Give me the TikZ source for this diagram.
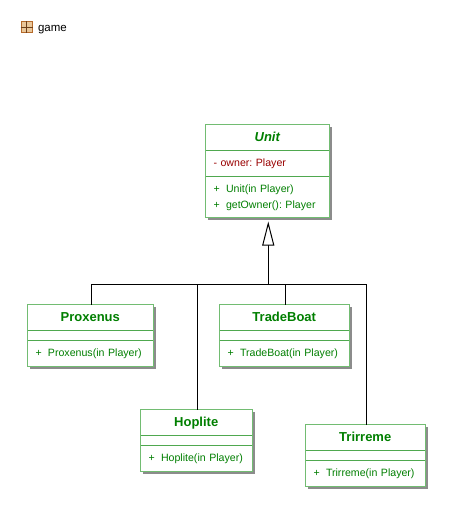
\documentclass[tikz,border=0pt]{standalone}
\usepackage{fontspec}
\setmainfont{Liberation Sans}
\usepackage{xcolor}
\usepackage{tikz}
\usetikzlibrary{arrows.meta,positioning,fit,backgrounds,shadows}
\definecolor{umlgreen}{HTML}{007F00}
\definecolor{umlred}{HTML}{990000}
\definecolor{umledge}{HTML}{72BC72}
\definecolor{umldivider}{HTML}{4FA84F}
\definecolor{umldark}{HTML}{3E963E}
\definecolor{iconfill}{HTML}{E9C79A}
\definecolor{iconedge}{HTML}{B56A2A}
\newcommand{\pub}{\makebox[12.5pt][l]{+}}

\begin{document}
\frenchspacing
\begin{tikzpicture}[
    x=1pt, y=-1pt,
    titlebox/.style={rectangle, minimum width=#1, minimum height=26pt, inner sep=0pt, outer sep=0pt, text height=11pt, text depth=3pt, text=umlgreen, font=\fontsize{13}{15}\selectfont\bfseries},
    attrbox/.style={rectangle, text width=#1-16pt, inner xsep=8pt, inner ysep=0pt, outer sep=0pt, text height=7.5pt, text depth=1.5pt, align=left, text=umlred, font=\fontsize{10.6}{16}\selectfont},
    opsbox/.style={rectangle, text width=#1-16pt, inner xsep=8pt, inner ysep=0pt, outer sep=0pt, text height=7.5pt, text depth=1.5pt, align=left, text=umlgreen, font=\fontsize{10.6}{16}\selectfont},
    classframe/.style={rectangle, draw=umledge, fill=white, line width=1pt, inner sep=0pt, outer sep=0pt,
        general shadow={shadow xshift=2.5pt, shadow yshift=-2.5pt, fill=black!45},
        general shadow={shadow xshift=0.8pt, shadow yshift=-0.8pt, fill=umldark}},
    divider/.style={umldivider, line width=1pt},
    arrow/.style={-{Triangle[open, fill=white, length=24pt, width=12pt]}, line width=1pt},
    link/.style={line width=1pt}
]
\useasboundingbox (0,0) rectangle (453,510);

% Package label
\node[rectangle, draw=iconedge, fill=iconfill, line width=1pt, minimum size=11pt, inner sep=0pt] (gameicon) at (26.5,27.2) {};
\node[right=2pt of gameicon, text height=9pt, text depth=0pt, font=\fontsize{11.5}{13}\selectfont] (gamelabel) {game};
\draw[iconedge!60!black, line width=0.8pt] (gameicon.north) -- (gameicon.south);
\draw[iconedge!60!black, line width=0.8pt] (gameicon.west) -- (gameicon.east);

% Parent class
\node[titlebox=123.5pt, anchor=north west, font=\fontsize{13}{15}\selectfont\bfseries\itshape] (unittitle) at (205.5,124.5) {Unit};
\node[attrbox=123.5pt, minimum height=26pt, below=0pt of unittitle] (unitattr) {- owner: Player};
\node[opsbox=123.5pt, minimum height=41pt, text depth=15.5pt, below=0pt of unitattr] (unitops) {\pub Unit(in Player)\\\pub getOwner(): Player};

% Child classes
\node[titlebox=125.5pt, anchor=north west] (proxenustitle) at (27.5,304.5) {Proxenus};
\node[attrbox=125.5pt, minimum height=10pt, below=0pt of proxenustitle] (proxenusattr) {};
\node[opsbox=125.5pt, minimum height=25.5pt, below=0pt of proxenusattr] (proxenusops) {\pub Proxenus(in Player)};

\node[titlebox=129.5pt, anchor=north west] (tradeboattitle) at (219.5,304.5) {TradeBoat};
\node[attrbox=129.5pt, minimum height=10pt, below=0pt of tradeboattitle] (tradeboatattr) {};
\node[opsbox=129.5pt, minimum height=25.5pt, below=0pt of tradeboatattr] (tradeboatops) {\pub TradeBoat(in Player)};

\node[titlebox=111.5pt, anchor=north west] (hoplitetitle) at (140.5,409.5) {Hoplite};
\node[attrbox=111.5pt, minimum height=10pt, below=0pt of hoplitetitle] (hopliteattr) {};
\node[opsbox=111.5pt, minimum height=25.5pt, below=0pt of hopliteattr] (hopliteops) {\pub Hoplite(in Player)};

\node[titlebox=119.5pt, anchor=north west] (trirremetitle) at (305.5,424.5) {Trirreme};
\node[attrbox=119.5pt, minimum height=10pt, below=0pt of trirremetitle] (trirremeattr) {};
\node[opsbox=119.5pt, minimum height=25.5pt, below=0pt of trirremeattr] (trirremeops) {\pub Trirreme(in Player)};

% Frames and dividers
\begin{scope}[on background layer]
\foreach \cname in {unit,proxenus,tradeboat,hoplite,trirreme}
    \node[classframe, fit=(\cname title)(\cname ops)] (\cname) {};
\end{scope}
\foreach \cname in {unit,proxenus,tradeboat,hoplite,trirreme} {
    \draw[divider] (\cname title.south west) -- (\cname title.south east);
    \draw[divider] (\cname attr.south west) -- (\cname attr.south east);
}

% Arrows
\coordinate (bus) at ([xshift=1pt]unit.south |- 0,284.5);
\draw[arrow] (bus) -- ([xshift=1pt, yshift=-4pt]unit.south);
\draw[link] ([xshift=1pt]proxenus.north) |- (bus);
\draw[link] ([xshift=1pt]hoplite.north) |- (bus);
\draw[link] ([xshift=1pt]tradeboat.north) |- (bus);
\draw[link] ([xshift=1pt]trirreme.north) |- (bus);

\end{tikzpicture}
\end{document}
